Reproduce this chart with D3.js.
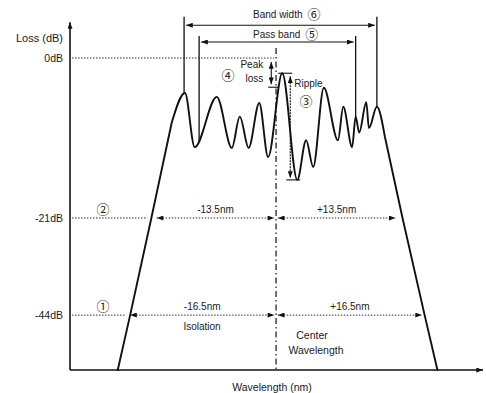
<!DOCTYPE html>
<html>
<head>
<meta charset="utf-8">
<script src="https://cdn.jsdelivr.net/npm/d3@7"></script>
<style>
  body { margin: 0; background: #fff; }
  text { font-family: "Liberation Sans", Arial, sans-serif; font-size: 10px; fill: #1a1a1a; }
  .num { font-family: "Noto Sans CJK KR", "DejaVu Sans", sans-serif; font-size: 13px; }
</style>
</head>
<body>
<svg id="chart" width="486" height="393"></svg>
<script>
// filter response, offset from centre wavelength (nm) and loss (dB)
const traceNm = [-17.9, -16.5, -14.1, -11.8, -10.3, -9.2, -6.7, -5.0, -4.1, -3.1, -1.9, -0.9, 0.7, 2.4, 3.4, 4.2,
                 5.4, 7.0, 7.6, 8.6, 9.0, 9.4, 10.2, 10.5, 11.4, 12.3, 14.3, 16.8, 18.25];
const traceDb = [-57, -44, -21, -8.5, -4.6, -11.7, -5.1, -11.8, -7.7, -11.8, -5.9, -13.0, -2.0, -16.0, -10.8, -14.3,
                 -3.9, -10.8, -6.4, -11.7, -7.7, -9.8, -5.8, -9.2, -6.4, -10.3, -21, -44, -57];

// loss levels on the axis and the half widths measured at them
const levelDb = [0, -21, -44];
const levelMark = [null, "②", "①"];
const halfWidthNm = [13.5, 16.5];   // at -21 dB and -44 dB
const bandWidthNm = [-10.4, 11.4];
const passBandNm = [-8.7, 9.0];

const svg = d3.select("#chart");
const x = d3.scaleLinear().domain([-23.3, 23.4]).range([70, 483]);
const y = d3.scaleLinear().domain([0, -21, -57]).range([58, 218, 370]);   // drawn out of scale, like the original sketch
const ink = "#111";

svg.append("defs").append("marker")
    .attr("id", "head")
    .attr("viewBox", "0 0 8 6")
    .attr("refX", 8).attr("refY", 3)
    .attr("markerWidth", 7).attr("markerHeight", 5)
    .attr("markerUnits", "userSpaceOnUse")
    .attr("orient", "auto-start-reverse")
  .append("path").attr("d", "M0,0L8,3L0,6Z").attr("fill", ink);

// axes
const x0 = x.range()[0];
svg.append("line")
    .attr("x1", x0).attr("y1", y(-57)).attr("x2", x.range()[1]).attr("y2", y(-57))
    .attr("stroke", ink).attr("stroke-width", 1.6).attr("marker-end", "url(#head)");
svg.append("line")
    .attr("x1", x0).attr("y1", y(-57)).attr("x2", x0).attr("y2", y(4.7))
    .attr("stroke", ink).attr("stroke-width", 1.6).attr("marker-end", "url(#head)");

svg.append("g")
    .attr("transform", `translate(${x0},0)`)
    .call(d3.axisLeft(y).tickValues(levelDb).tickFormat(d => d + "dB").tickSize(0).tickPadding(7))
    .call(g => g.select(".domain").remove())
    .call(g => g.selectAll("text").attr("font-family", null).attr("font-size", null).style("font-size", "10.5px"));

svg.append("text").attr("x", x0 - 7).attr("y", 42).attr("text-anchor", "end")
    .style("font-size", "11px").text("Loss (dB)");
svg.append("text").attr("x", 272).attr("y", 391).attr("text-anchor", "middle")
    .style("font-size", "10.5px").text("Wavelength (nm)");

// response trace: straight skirts, smooth ripple on top
const pts = traceNm.map((n, i) => [n, traceDb[i]]);
const n = pts.length;
const straight = d3.line().x(d => x(d[0])).y(d => y(d[1]));
const smooth = d3.line().x(d => x(d[0])).y(d => y(d[1])).curve(d3.curveMonotoneX);
const tracePath = svg.append("path")
    .attr("fill", "none").attr("stroke", ink).attr("stroke-width", 1.9)
    .attr("stroke-linejoin", "round").attr("stroke-linecap", "round")
    .attr("d", straight(pts.slice(0, 4)) + smooth(pts.slice(3, n - 3)) + straight(pts.slice(n - 4)));

const node = tracePath.node();
const samples = d3.range(0, node.getTotalLength(), 0.5).map(l => node.getPointAtLength(l));
const curveYAt = px => samples.find(s => s.x >= px).y;

// centre wavelength
svg.append("line")
    .attr("x1", x(0)).attr("x2", x(0)).attr("y1", y(1.3)).attr("y2", y(-57))
    .attr("stroke", ink).attr("stroke-width", 1.2).attr("stroke-dasharray", "6,3,1.5,3");

// dotted level lines and width arrows
const dotted = sel => sel.attr("stroke", "#333").attr("stroke-width", 1).attr("stroke-dasharray", "1.5,1.5");
svg.append("line").attr("x1", x0 + 2).attr("x2", x(0) - 2).attr("y1", y(0)).attr("y2", y(0)).call(dotted);

halfWidthNm.forEach((w, i) => {
  const db = levelDb[i + 1];
  const leftIdx = traceDb.indexOf(db);
  const ly = y(db);
  svg.append("line").attr("x1", x0 + 2).attr("x2", x(traceNm[leftIdx]) - 4).attr("y1", ly).attr("y2", ly).call(dotted);
  [[-w, -0.2], [0.2, w]].forEach(([a, b], k) => {
    svg.append("line").attr("x1", x(a)).attr("x2", x(b)).attr("y1", ly).attr("y2", ly).call(dotted)
        .attr("marker-start", "url(#head)").attr("marker-end", "url(#head)");
    svg.append("text").attr("x", (x(a) + x(b)) / 2).attr("y", ly - 5).attr("text-anchor", "middle")
        .text((k ? "+" : "-") + w + "nm");
  });
  svg.append("text").attr("class", "num").attr("x", x0 + 33).attr("y", ly - 4)
      .attr("text-anchor", "middle").text(levelMark[i + 1]);
});

svg.append("text").attr("x", 202).attr("y", y(-44) + 15).attr("text-anchor", "middle").text("Isolation");
svg.append("text").attr("x", 312).attr("y", y(-44) + 24).attr("text-anchor", "middle").style("font-size", "10.5px").text("Center");
svg.append("text").attr("x", 316).attr("y", y(-44) + 39).attr("text-anchor", "middle").style("font-size", "10.5px").text("Wavelength");

// band width and pass band
const bands = [
  {nm: bandWidthNm, top: 5.4, arrow: 4.3, gap: 7, label: "Band width", mark: "⑥"},
  {nm: passBandNm, top: 2.9, arrow: 2.1, gap: 4, label: "Pass band", mark: "⑤"}
];
bands.forEach(b => {
  b.nm.forEach(v => {
    svg.append("line").attr("x1", x(v)).attr("x2", x(v)).attr("y1", y(b.top)).attr("y2", curveYAt(x(v)))
        .attr("stroke", ink).attr("stroke-width", 1.3);
  });
  svg.append("line").attr("x1", x(b.nm[0]) + 2).attr("x2", x(b.nm[1]) - 2)
      .attr("y1", y(b.arrow)).attr("y2", y(b.arrow))
      .attr("stroke", ink).attr("stroke-width", 1.1)
      .attr("marker-start", "url(#head)").attr("marker-end", "url(#head)");
  const t = svg.append("text").attr("x", 253).attr("y", y(b.arrow) - b.gap).text(b.label);
  svg.append("text").attr("class", "num").attr("x", 253 + t.node().getComputedTextLength() + 5)
      .attr("y", y(b.arrow) - b.gap + 1).text(b.mark);
});

// peak loss and ripple
const peakI = d3.maxIndex(traceDb);
const troughI = d3.minIndex(traceDb.map((d, i) => traceNm[i] > passBandNm[0] && traceNm[i] < passBandNm[1] ? d : 0));
const px = x(traceNm[peakI]), py = y(traceDb[peakI]);
const tx = x(traceNm[troughI]), ty = y(traceDb[troughI]);

const solid = sel => sel.attr("stroke", ink).attr("stroke-width", 1.1);
svg.append("line").attr("x1", px - 4).attr("x2", px + 10).attr("y1", py).attr("y2", py).call(solid);
svg.append("line").attr("x1", tx - 11).attr("x2", tx + 3).attr("y1", ty).attr("y2", ty).call(solid);
svg.append("line").attr("x1", px - 14).attr("x2", px - 4).attr("y1", py + 14).attr("y2", py + 14).call(solid);

svg.append("line").attr("x1", px - 11).attr("x2", px - 11).attr("y1", y(0) + 4).attr("y2", py + 11).call(solid)
    .attr("marker-start", "url(#head)").attr("marker-end", "url(#head)");
svg.append("line").attr("x1", tx - 7).attr("x2", tx - 7).attr("y1", py + 3).attr("y2", ty - 2).call(solid)
    .attr("stroke-dasharray", "2,1")
    .attr("marker-start", "url(#head)").attr("marker-end", "url(#head)");

svg.append("text").attr("x", px - 19).attr("y", 68).attr("text-anchor", "end").text("Peak");
svg.append("text").attr("x", px - 19).attr("y", 82).attr("text-anchor", "end").text("loss");
svg.append("text").attr("class", "num").attr("x", 228).attr("y", 80).attr("text-anchor", "middle").text("④");
svg.append("text").attr("x", tx - 3).attr("y", 87).text("Ripple");
svg.append("text").attr("class", "num").attr("x", 306).attr("y", 106).attr("text-anchor", "middle").text("③");
</script>
</body>
</html>
